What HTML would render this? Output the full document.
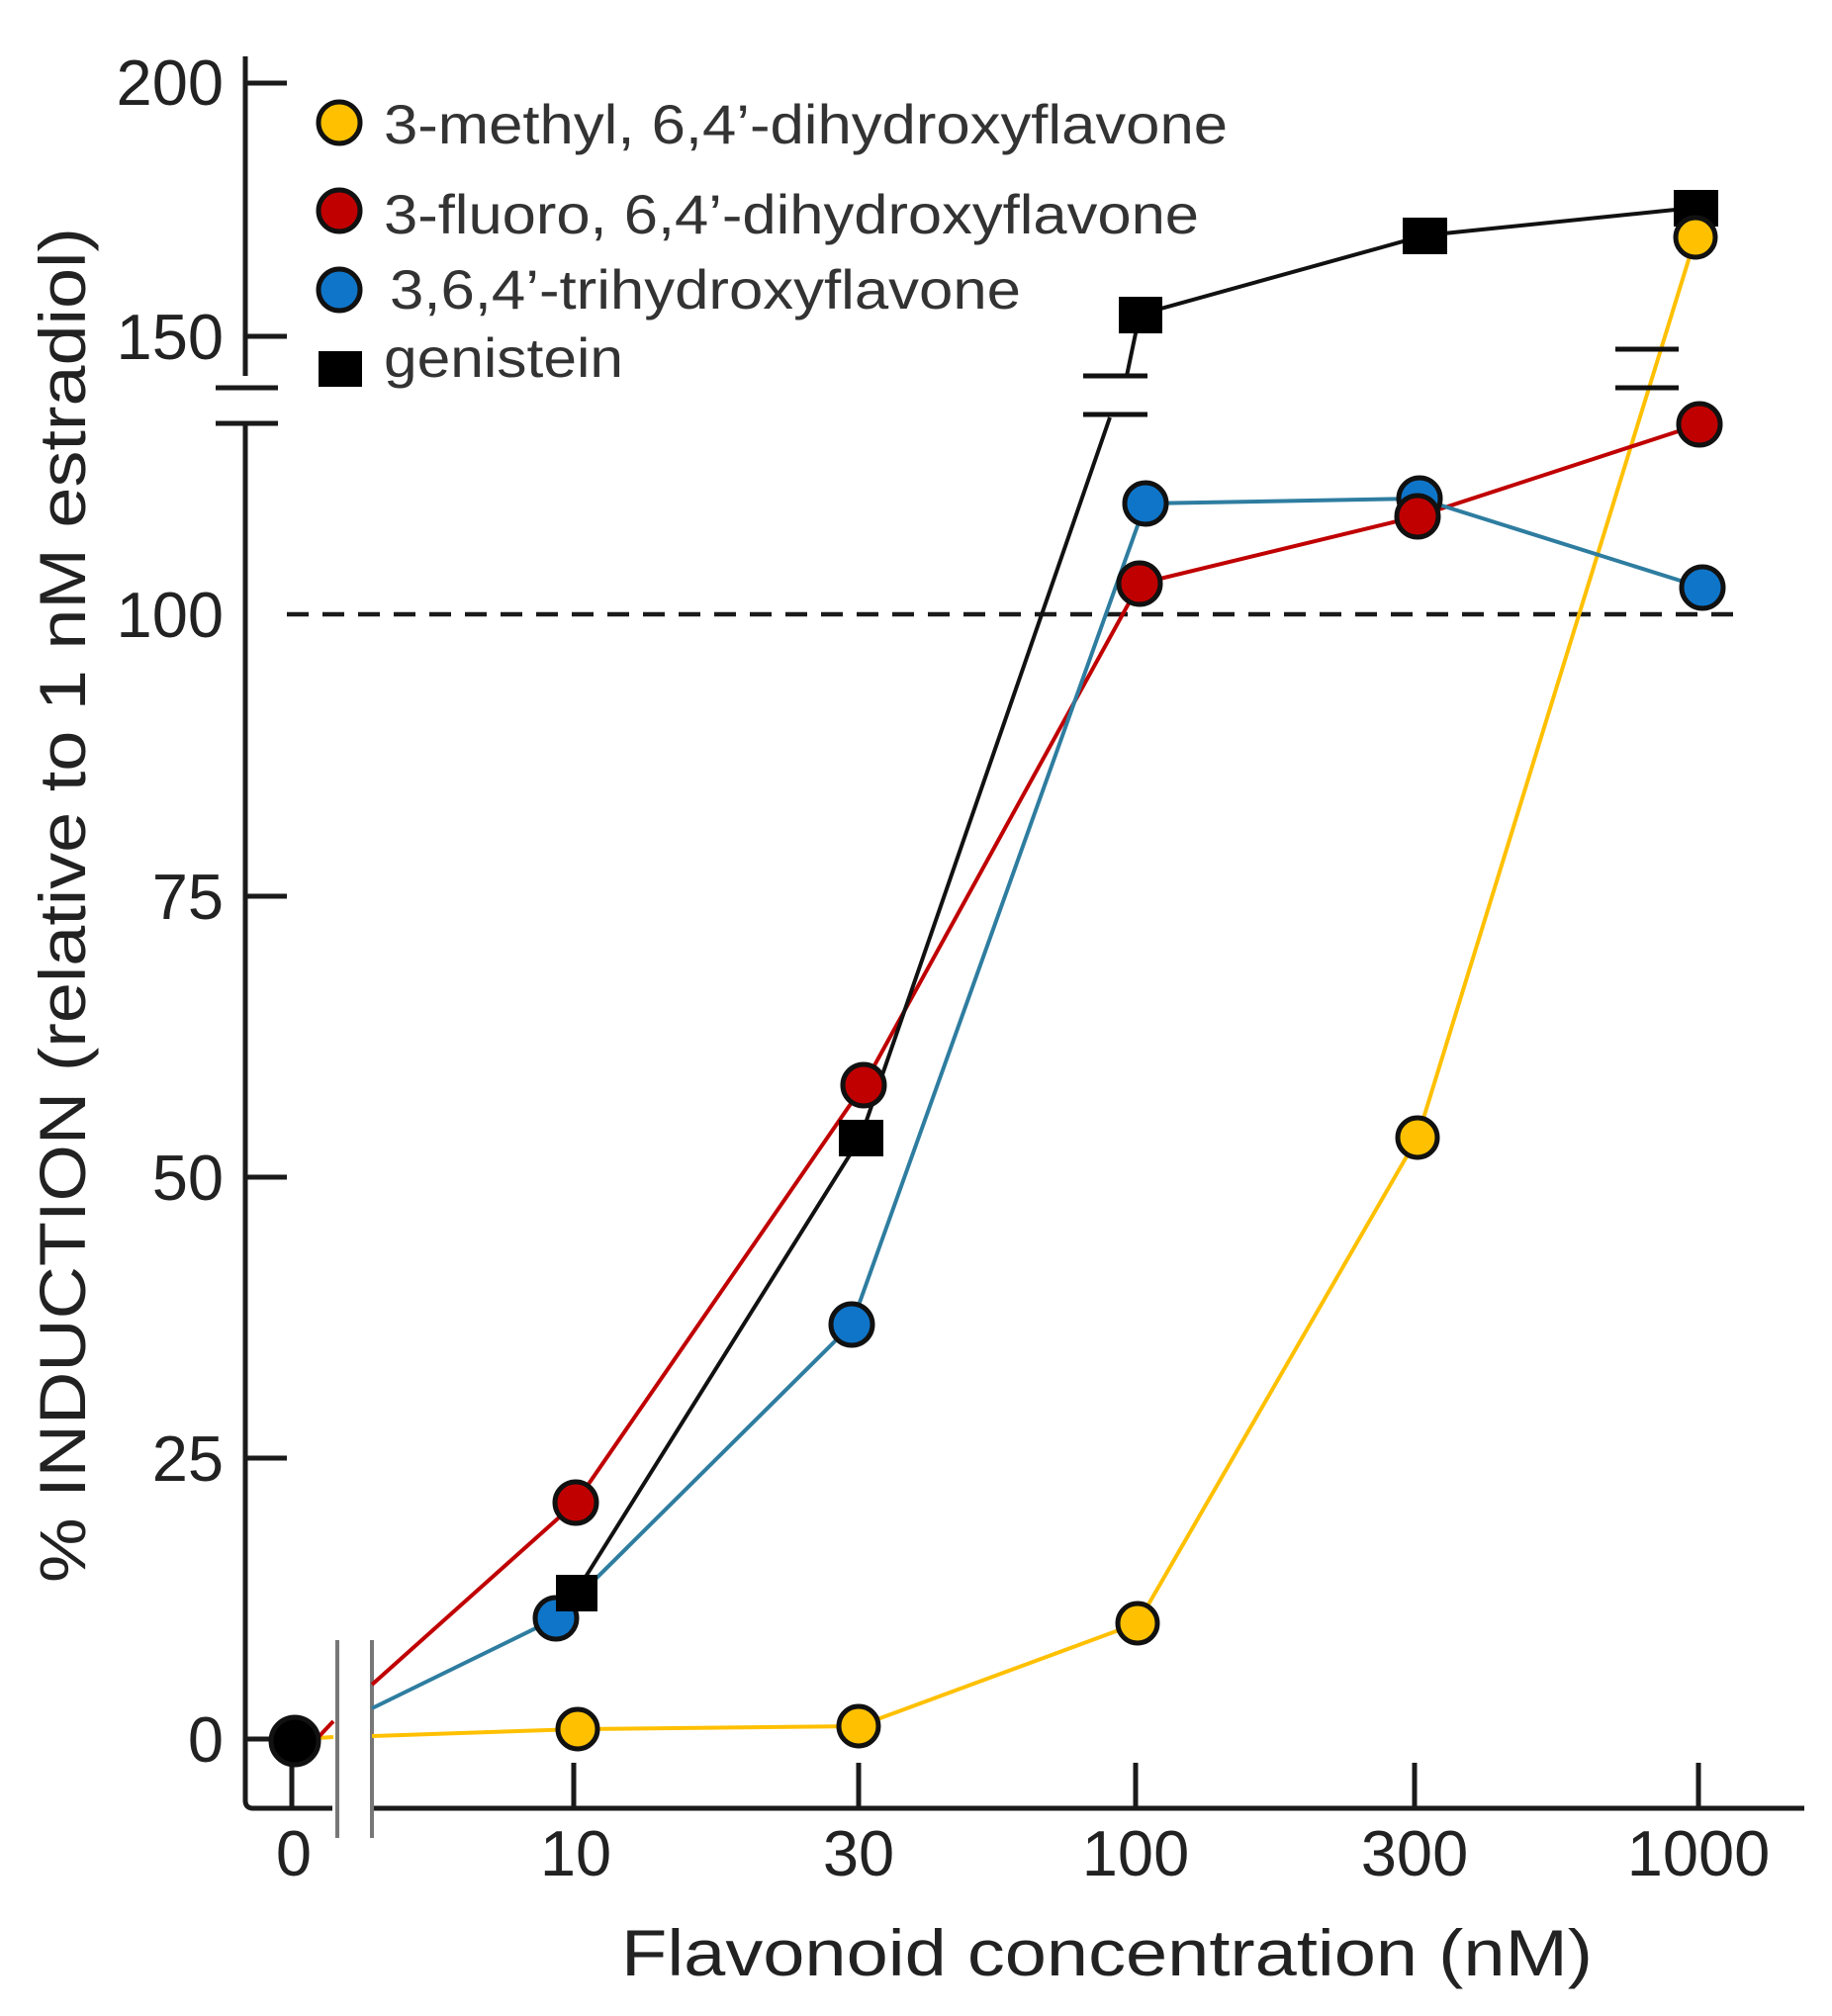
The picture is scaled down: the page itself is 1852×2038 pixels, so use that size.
<!DOCTYPE html>
<html><head><meta charset="utf-8"><style>html,body{margin:0;padding:0;background:#fff}svg{display:block}</style></head>
<body>
<svg width="1852" height="2038" viewBox="0 0 1852 2038" xmlns="http://www.w3.org/2000/svg" font-family="Liberation Sans, sans-serif">
<rect width="1852" height="2038" fill="#fff"/>
<g stroke="#1a1a1a" stroke-width="5" fill="none">
<line x1="248" y1="57" x2="248" y2="380"/>
<path d="M248 428 L248 1820 Q248 1828 256 1828 L336 1828"/>
<line x1="376" y1="1828" x2="1824" y2="1828"/>
<line x1="248" y1="84" x2="290" y2="84"/>
<line x1="248" y1="340" x2="290" y2="340"/>
<line x1="248" y1="906" x2="290" y2="906"/>
<line x1="248" y1="1190" x2="290" y2="1190"/>
<line x1="248" y1="1474" x2="290" y2="1474"/>
<line x1="248" y1="1758" x2="290" y2="1758"/>
<line x1="218" y1="392" x2="281" y2="392"/>
<line x1="218" y1="428" x2="281" y2="428"/>
<line x1="295" y1="1828" x2="295" y2="1760"/>
<line x1="580" y1="1828" x2="580" y2="1782"/>
<line x1="868" y1="1828" x2="868" y2="1782"/>
<line x1="1148" y1="1828" x2="1148" y2="1782"/>
<line x1="1430" y1="1828" x2="1430" y2="1782"/>
<line x1="1717" y1="1828" x2="1717" y2="1782"/>
</g>
<g stroke="#777" stroke-width="4"><line x1="341" y1="1658" x2="341" y2="1858"/><line x1="376" y1="1658" x2="376" y2="1858"/></g>
<line x1="290" y1="621" x2="1755" y2="621" stroke="#1a1a1a" stroke-width="4.5" stroke-dasharray="22,14"/>
<g font-size="65" fill="#222" text-anchor="end">
<text x="226" y="106">200</text><text x="226" y="363">150</text><text x="226" y="644">100</text>
<text x="226" y="929">75</text><text x="226" y="1213">50</text><text x="226" y="1497">25</text><text x="226" y="1781">0</text>
</g>
<g font-size="65" fill="#222" text-anchor="middle">
<text x="297" y="1896">0</text><text x="582" y="1896">10</text><text x="868" y="1896">30</text>
<text x="1148" y="1896">100</text><text x="1430" y="1896">300</text><text x="1717" y="1896">1000</text>
</g>
<text x="628" y="1997" font-size="66" fill="#222" textLength="982" lengthAdjust="spacingAndGlyphs">Flavonoid concentration (nM)</text>
<text transform="translate(86,1600) rotate(-90)" font-size="66" fill="#222" textLength="1370" lengthAdjust="spacingAndGlyphs">% INDUCTION (relative to 1 nM estradiol)</text>
<g stroke="#111" stroke-width="5">
<circle cx="343" cy="124" r="21" fill="#FFC000"/>
<circle cx="343" cy="213" r="21" fill="#C00000"/>
<circle cx="343" cy="293" r="21" fill="#0F75C9"/>
</g>
<rect x="322" y="355" width="44" height="36" fill="#000"/>
<g font-size="56" fill="#333">
<text x="388" y="145" textLength="853" lengthAdjust="spacingAndGlyphs">3-methyl, 6,4’-dihydroxyflavone</text>
<text x="388" y="236" textLength="824" lengthAdjust="spacingAndGlyphs">3-fluoro, 6,4’-dihydroxyflavone</text>
<text x="394" y="312" textLength="638" lengthAdjust="spacingAndGlyphs">3,6,4’-trihydroxyflavone</text>
<text x="388" y="381" textLength="242" lengthAdjust="spacingAndGlyphs">genistein</text>
</g>
<g fill="none" stroke-width="4">
<polyline stroke="#FFC000" points="320,1757 337,1756"/>
<polyline stroke="#C00000" points="320,1758 337,1740"/>
<polyline stroke="#FFC000" points="376,1755 584,1748 868,1745 1150,1641 1433,1150 1714,240"/>
<polyline stroke="#C00000" points="376,1703 582,1519 873,1097 1152,590 1433,522 1718,429"/>
<polyline stroke="#2E7DA0" points="376,1727 562,1636 861,1339 1158,509 1435,504 1721,594"/>
<polyline stroke="#111" points="582,1610 870,1150 1122,422"/>
<polyline stroke="#111" points="1139,380 1152,318 1440,238 1713,210"/>
</g>
<g stroke="#111" stroke-width="5"><line x1="1095" y1="380" x2="1160" y2="380"/><line x1="1095" y1="419" x2="1160" y2="419"/>
<line x1="1633" y1="353" x2="1697" y2="353"/><line x1="1633" y1="392" x2="1697" y2="392"/></g>
<g stroke="#111" stroke-width="5">
<circle cx="298" cy="1760" r="24" fill="#000"/>
<circle cx="584" cy="1748" r="20" fill="#FFC000"/>
<circle cx="868" cy="1745" r="20" fill="#FFC000"/>
<circle cx="1150" cy="1641" r="20" fill="#FFC000"/>
<circle cx="1433" cy="1150" r="20" fill="#FFC000"/>
<circle cx="582" cy="1519" r="21" fill="#C00000"/>
<circle cx="873" cy="1097" r="21" fill="#C00000"/>
<circle cx="1152" cy="590" r="21" fill="#C00000"/>
<circle cx="1718" cy="429" r="21" fill="#C00000"/>
<circle cx="562" cy="1636" r="21" fill="#0F75C9"/>
<circle cx="861" cy="1339" r="21" fill="#0F75C9"/>
<circle cx="1158" cy="509" r="21" fill="#0F75C9"/>
<circle cx="1435" cy="504" r="21" fill="#0F75C9"/>
<circle cx="1433" cy="522" r="21" fill="#C00000"/>
<circle cx="1721" cy="594" r="21" fill="#0F75C9"/>
</g>
<g fill="#000">
<rect x="562" y="1592" width="42" height="37"/>
<rect x="848" y="1132" width="45" height="37"/>
<rect x="1131" y="300" width="44" height="37"/>
<rect x="1418" y="220" width="45" height="37"/>
<rect x="1692" y="192" width="45" height="37"/>
</g>
<circle cx="1714" cy="240" r="20" fill="#FFC000" stroke="#111" stroke-width="5"/>
</svg>
</body></html>
